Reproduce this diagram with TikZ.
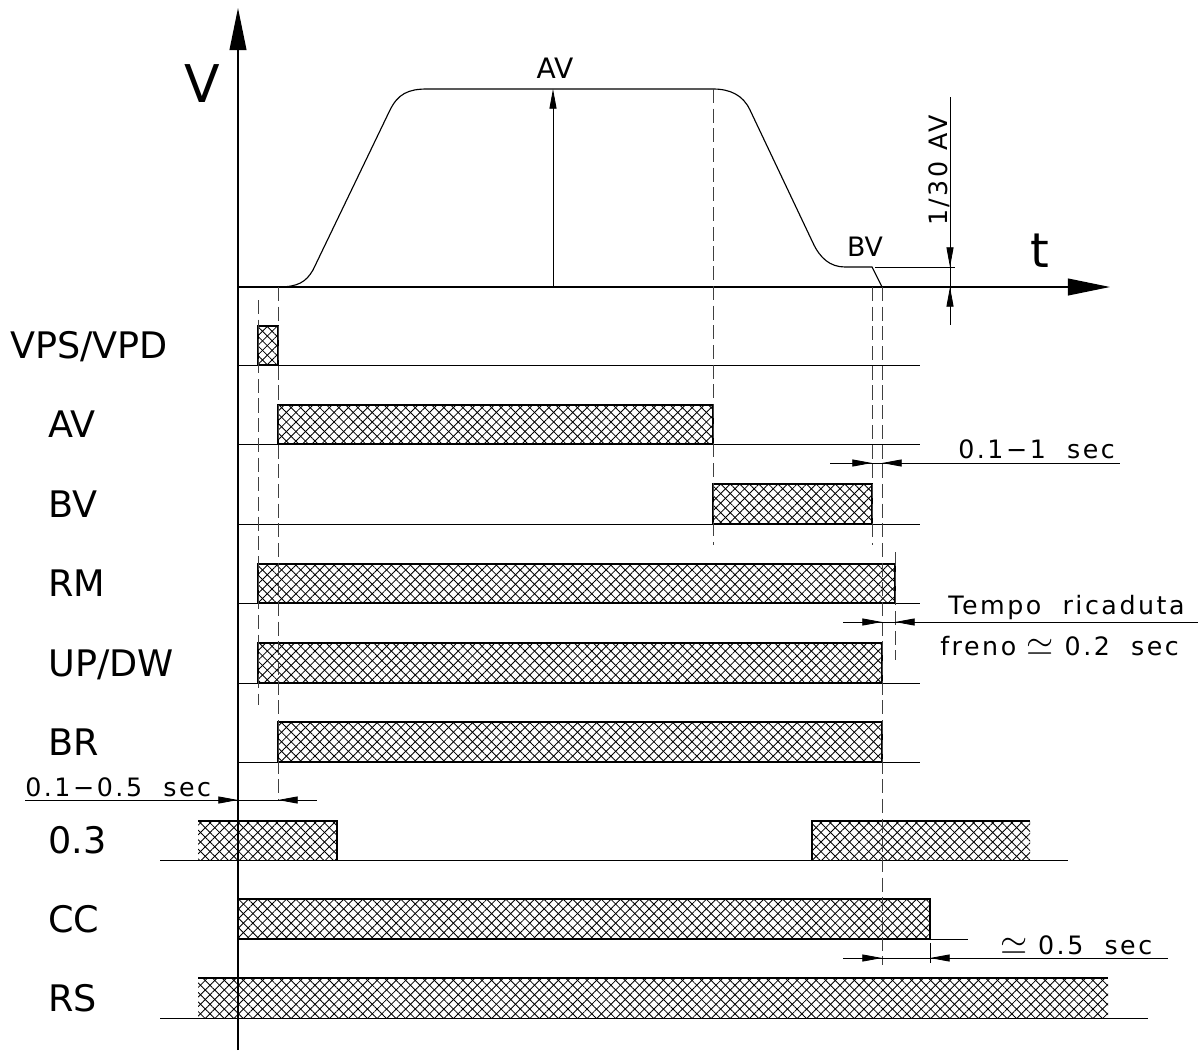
\documentclass[tikz,border=0pt]{standalone}
\usepackage{fontspec}
\setmainfont{DejaVu Sans}
\newfontfamily\dimfont{DejaVu Sans}[LetterSpace=10]
\newcommand{\approxsym}{{\fontsize{27}{28}\selectfont$\simeq$}}
\usetikzlibrary{arrows.meta,patterns.meta}
\tikzset{
    every node/.style={inner sep=0pt},
    sig/.style={anchor=west,text depth=0pt,font=\fontsize{26}{28}\selectfont},
    dimtxt/.style={anchor=base west,font=\dimfont\fontsize{18}{20}\selectfont},
    axis/.style={line width=1pt,-{Triangle[length=30pt,width=12pt]}},
    baseln/.style={line width=0.7pt},
    hatch/.style={pattern={Lines[angle=45,distance=4.8pt,line width=0.6pt]},
        postaction={pattern={Lines[angle=-45,distance=4.8pt,line width=0.6pt]}}},
    bar/.style={hatch,draw,line width=0.9pt},
    barline/.style={line width=0.9pt},
    guide/.style={dash pattern=on 10pt off 4pt,line width=0.7pt,black!75},
    dim/.style={line width=0.6pt},
    dimtip/.style={line width=0.6pt,-{Triangle[length=14pt,width=5pt]}}
}
\begin{document}
\begin{tikzpicture}[x=0.025cm,y=-0.025cm]
\useasboundingbox (0,0) rectangle (1202,1052);

\draw[axis] (238,1050) -- (238,8);
\draw[axis] (238,287) -- (1110,287);
\node[font=\fontsize{37}{40}\selectfont] (vlab) at (202,84) {V};
\node[font=\fontsize{34}{36}\selectfont] (tlab) at (1040,251) {t};

\draw[line width=0.8pt] (278,287) .. controls (298,287) and (306,282) .. (313,270) -- (390,110)
    .. controls (398,94) and (408,89) .. (427,89) -- (713,89)
    .. controls (730,89) and (743,95) .. (750,110) -- (813,243)
    .. controls (820,258) and (830,267) .. (845,267) -- (872,267) -- (882,287);

\draw[dimtip] (553,287) -- (553,89);
\node[anchor=base,font=\fontsize{20}{22}\selectfont] (avtop) at (555,78) {AV};
\node[anchor=base,font=\fontsize{19}{22}\selectfont] (bvtop) at (865,256) {BV};

\draw[dim] (875,267) -- (955,267);
\draw[dim] (950,97) -- (950,325);
\draw[dimtip] (950,245) -- (950,267);
\draw[dimtip] (950,309) -- (950,287);
\node[dimtxt,rotate=90] (thirty) at (947,226) {1/30 AV};

\node[sig] (lvps) at (10,345) {VPS/VPD};
\node[sig] (lav) at (48,424) {AV};
\node[sig] (lbv) at (48,504) {BV};
\node[sig] (lrm) at (48,583) {RM};
\node[sig] (lud) at (48,663) {UP/DW};
\node[sig] (lbr) at (48,742) {BR};
\node[sig] (lt3) at (48,840) {0.3};
\node[sig] (lcc) at (48,919) {CC};
\node[sig] (lrs) at (48,998) {RS};

\draw[bar] (258,326) rectangle (278,365);
\draw[bar] (278,405) rectangle (713,444);
\draw[bar] (713,484) rectangle (872,524);
\draw[bar] (258,564) rectangle (895,603);
\draw[bar] (258,643) rectangle (882,683);
\draw[bar] (278,722) rectangle (882,762);
\fill[hatch] (198,821) rectangle (337,860);
\draw[barline] (198,821) -- (337,821) -- (337,860);
\fill[hatch] (812,821) rectangle (1030,860);
\draw[barline] (812,860) -- (812,821) -- (1030,821);
\draw[bar] (238,899) rectangle (930,939);
\fill[hatch] (198,978) rectangle (1108,1018);
\draw[barline] (198,978) -- (1108,978);

\foreach \y in {365,444,524,603,683,762}
    \draw[baseln] (238,\y) -- (920,\y);
\draw[baseln] (160,860) -- (1068,860);
\draw[baseln] (238,939) -- (968,939);
\draw[baseln] (160,1018) -- (1148,1018);

\foreach \x/\a/\b in {258/300/705,278/287/800,713/89/545,872/287/545,882/287/965,895/552/660}
    \draw[guide] (\x,\a) -- (\x,\b);

\draw[dim] (830,463) -- (1120,463);
\draw[dimtip] (850,463) -- (872,463);
\draw[dimtip] (904,463) -- (882,463);
\node[dimtxt] (d1) at (958,458) {0.1−1\ \ sec};

\draw[dim] (843,622) -- (1198,622);
\draw[dimtip] (862,622) -- (882,622);
\draw[dimtip] (915,622) -- (895,622);
\node[dimtxt] (d2a) at (948,614) {Tempo\ \ ricaduta};
\node[dimtxt] (d2b) at (940,655) {freno \approxsym{} 0.2\ \ sec};

\draw[dim] (25,800) -- (317,800);
\draw[dimtip] (218,800) -- (238,800);
\draw[dimtip] (298,800) -- (278,800);
\node[dimtxt] (d3) at (25,796) {0.1−0.5\ \ sec};

\draw[dim] (843,958) -- (1168,958);
\draw[dimtip] (862,958) -- (882,958);
\draw[dimtip] (950,958) -- (930,958);
\draw[dim] (930,943) -- (930,963);
\node[dimtxt] (d4) at (1000,954) {\approxsym{} 0.5\ \ sec};
\end{tikzpicture}
\end{document}
